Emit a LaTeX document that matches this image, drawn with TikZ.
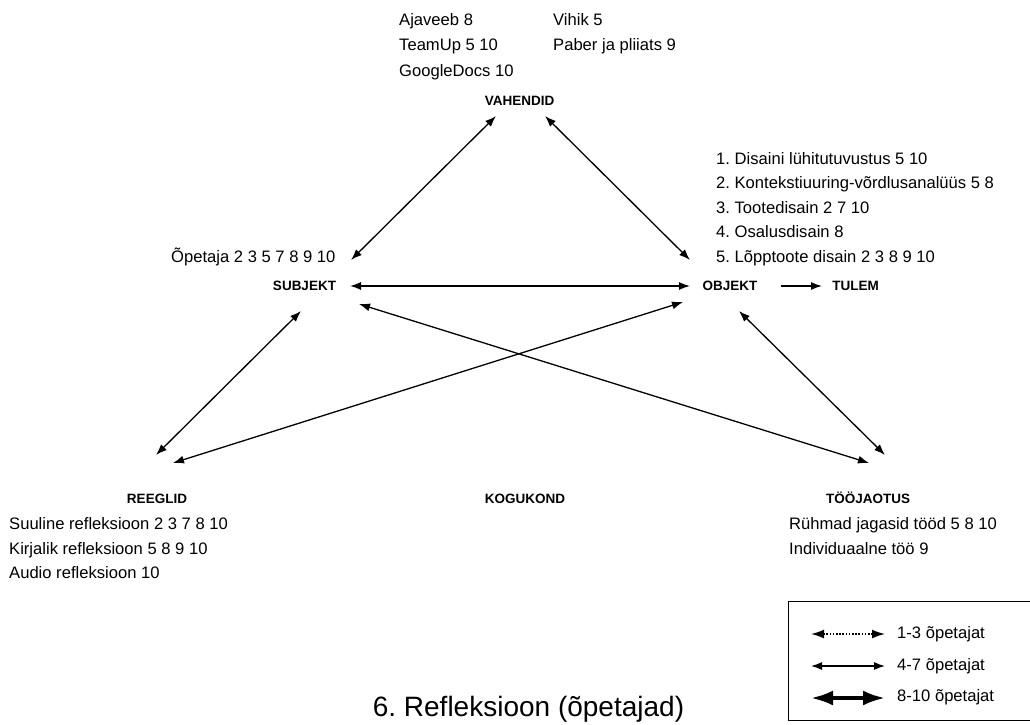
\documentclass[tikz,border=0pt]{standalone}
\usepackage{fontspec}
\setmainfont{Liberation Sans}
\usetikzlibrary{arrows.meta}
\begin{document}
\frenchspacing
\begin{tikzpicture}[x=1pt,y=-1pt,
  txt/.style={inner sep=0pt,anchor=base west,font=\fontsize{16.6}{19}\selectfont},
  lbl/.style={inner sep=0pt,anchor=base,font=\bfseries\fontsize{13.5}{15}\selectfont},
  link/.style={line width=1.3pt,{Latex[length=11pt,width=8pt]}-{Latex[length=11pt,width=8pt]}},
  one/.style={line width=1.3pt,-{Latex[length=11pt,width=8pt]}},
  dotlink/.style={line width=1.6pt,dash pattern=on 1.6pt off 1.6pt,{Latex[length=13pt,width=9pt]}-{Latex[length=13pt,width=9pt]}},
  heavy/.style={line width=3.6pt,{Latex[length=22pt,width=15pt]}-{Latex[length=22pt,width=15pt]}}]
\useasboundingbox (0,0) rectangle (1030,725);
% labels
\node[lbl] (vah) at (519.5,105) {VAHENDID};
\node[lbl] (sub) at (304.5,290.7) {SUBJEKT};
\node[lbl] (obj) at (730,290.7) {OBJEKT};
\node[lbl] (tul) at (855.5,290.7) {TULEM};
\node[lbl] (ree) at (157,503) {REEGLID};
\node[lbl] (kog) at (525,503) {KOGUKOND};
\node[lbl] (too) at (868,503) {TÖÖJAOTUS};
% texts
\node[txt] (t1) at (399,25.7) {Ajaveeb 8};
\node[txt] (t2) at (399,51) {TeamUp 5 10};
\node[txt] (t3) at (399,76) {GoogleDocs 10};
\node[txt] (t4) at (553,25.7) {Vihik 5};
\node[txt] (t5) at (553,51) {Paber ja pliiats 9};
\node[txt] (t6) at (171,262) {Õpetaja 2 3 5 7 8 9 10};
\node[txt] (o1) at (716,164) {1. Disaini lühitutuvustus 5 10};
\node[txt] (o2) at (716,188.5) {2. Kontekstiuuring-võrdlusanalüüs 5 8};
\node[txt] (o3) at (716,213) {3. Tootedisain 2 7 10};
\node[txt] (o4) at (716,237.5) {4. Osalusdisain 8};
\node[txt] (o5) at (716,262) {5. Lõpptoote disain 2 3 8 9 10};
\node[txt] (r1) at (9,529) {Suuline refleksioon 2 3 7 8 10};
\node[txt] (r2) at (9,554) {Kirjalik refleksioon 5 8 9 10};
\node[txt] (r3) at (9,578.5) {Audio refleksioon 10};
\node[txt] (j1) at (789,529.5) {Rühmad jagasid tööd 5 8 10};
\node[txt] (j2) at (789,554) {Individuaalne töö 9};
% arrow end points
\coordinate (va) at (496,116);
\coordinate (vb) at (545,116);
\coordinate (sa) at (351,260);
\coordinate (sb) at (350,286);
\coordinate (sc) at (301,311);
\coordinate (sd) at (359,304);
\coordinate (oa) at (690,260);
\coordinate (ob) at (690,286);
\coordinate (oc) at (683,302);
\coordinate (od) at (739,311);
\coordinate (oe) at (781,286);
\coordinate (te) at (822,286);
\coordinate (ra) at (156,455);
\coordinate (rb) at (173,463);
\coordinate (ja) at (869,463);
\coordinate (jb) at (885,455);
\draw[link] (va) -- (sa);
\draw[link] (vb) -- (oa);
\draw[link] (sb) -- (ob);
\draw[link] (sc) -- (ra);
\draw[link] (oc) -- (rb);
\draw[link] (sd) -- (ja);
\draw[link] (od) -- (jb);
\draw[one] (oe) -- (te);
% legend
\node[draw,line width=1.4pt,inner sep=0pt,minimum width=244pt,minimum height=119pt,anchor=north west] (leg) at (788,601) {};
\coordinate (l1a) at (811,634);
\coordinate (l1b) at (885,634);
\coordinate (l2a) at (811,666);
\coordinate (l2b) at (885,666);
\coordinate (l3a) at (811,698);
\coordinate (l3b) at (885,698);
\draw[dotlink] (l1a) -- (l1b);
\draw[link] (l2a) -- (l2b);
\draw[heavy] (l3a) -- (l3b);
\node[txt] (lg1) at (897,638) {1-3 õpetajat};
\node[txt] (lg2) at (897,670) {4-7 õpetajat};
\node[txt] (lg3) at (897,701.5) {8-10 õpetajat};
\node[inner sep=0pt,anchor=base,font=\fontsize{28}{32}\selectfont] (title) at (528.5,716.7) {6. Refleksioon (õpetajad)};
\end{tikzpicture}
\end{document}
